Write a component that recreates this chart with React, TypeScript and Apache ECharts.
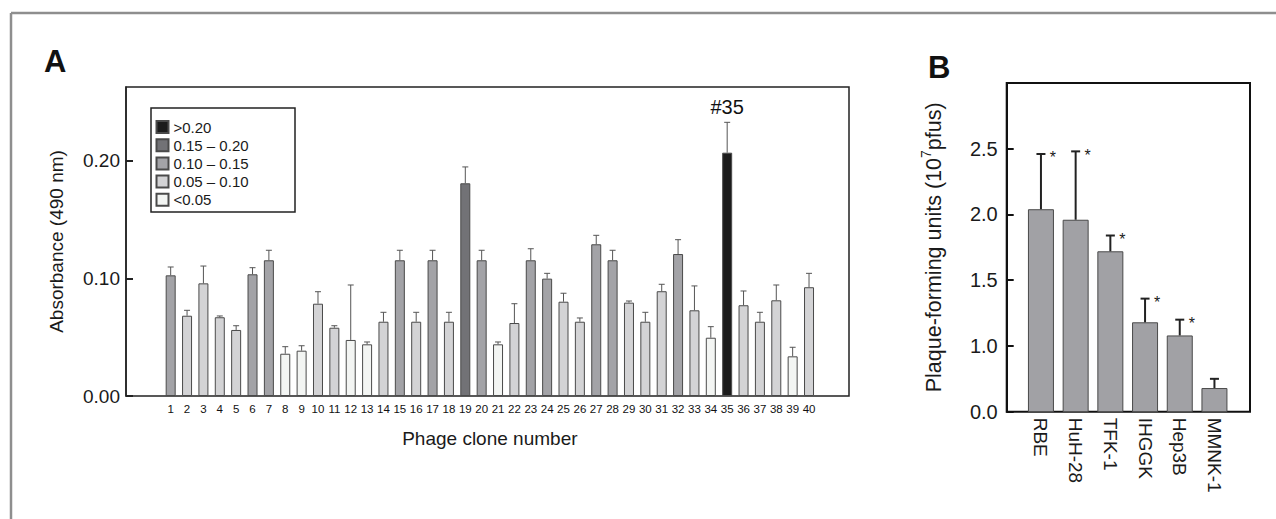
import React, { useEffect, useRef } from "react";
import * as echarts from "echarts";

const cloneLabels = ["1","2","3","4","5","6","7","8","9","10","11","12","13","14","15","16","17","18","19","20","21","22","23","24","25","26","27","28","29","30","31","32","33","34","35","36","37","38","39","40"];
const absorbance = [0.1025,0.0682,0.0957,0.0669,0.0561,0.1034,0.1153,0.0359,0.0385,0.0784,0.0580,0.0476,0.0439,0.0631,0.1153,0.0631,0.1153,0.0631,0.1807,0.1153,0.0439,0.0620,0.1153,0.0997,0.0801,0.0631,0.1289,0.1153,0.0793,0.0631,0.0890,0.1206,0.0728,0.0495,0.2067,0.0771,0.0631,0.0813,0.0337,0.0924];
const absorbanceSd = [0.0071,0.0046,0.0147,0.0011,0.0036,0.0056,0.0085,0.0060,0.0042,0.0102,0.0017,0.0467,0.0020,0.0080,0.0085,0.0080,0.0085,0.0080,0.0139,0.0085,0.0020,0.0164,0.0098,0.0045,0.0072,0.0032,0.0076,0.0085,0.0014,0.0080,0.0059,0.0122,0.0207,0.0094,0.0258,0.0121,0.0080,0.0130,0.0077,0.0118];
// class index: 0 >0.20, 1 0.15-0.20, 2 0.10-0.15, 3 0.05-0.10, 4 <0.05
const absorbanceClass = [2,3,3,3,3,2,2,4,4,3,3,4,4,3,2,3,2,3,1,2,4,3,2,2,3,3,2,2,3,3,3,2,3,4,0,3,3,3,4,3];
const classNames = [">0.20", "0.15 \u2013 0.20", "0.10 \u2013 0.15", "0.05 \u2013 0.10", "<0.05"];
const classColors = ["#1c1c1c", "#727276", "#a3a3a7", "#d3d3d5", "#f3f5f3"];
const absTicks = [0, 0.1, 0.2];
const highlightIndex = 34;
const highlightText = "#35";

const cellLines = ["RBE", "HuH-28", "TFK-1", "IHGGK", "Hep3B", "MMNK-1"];
const pfu = [2.04, 1.96, 1.72, 1.18, 1.08, 0.68];
const pfuSd = [0.42, 0.52, 0.12, 0.18, 0.12, 0.07];
const significant = [true, true, true, true, true, false];

const FONT = "'Liberation Sans', Arial, Helvetica, sans-serif";
const TXT = "#1a1a1a";

export default function App() {
  const ref = useRef<HTMLDivElement>(null);
  useEffect(() => {
    if (!ref.current) return;
    const chart = echarts.init(ref.current, null, { renderer: "svg" });

    const classSeries = classNames.map((name, c) => ({
      name,
      type: "bar",
      xAxisIndex: 1,
      yAxisIndex: 1,
      barWidth: 10,
      barGap: "-100%",
      itemStyle: { color: classColors[c], borderColor: "#4a4a4a", borderWidth: 1 },
      data: absorbance.map((v, i) => (absorbanceClass[i] === c ? v : "-")),
      z: 2,
    }));

    const option: any = {
      animation: false,
      textStyle: { fontFamily: FONT },
      graphic: [
        { type: "line", shape: { x1: 11, y1: 13, x2: 1276, y2: 13 }, style: { stroke: "#8e8e8e", lineWidth: 2.5 } },
        { type: "line", shape: { x1: 11, y1: 13, x2: 11, y2: 519 }, style: { stroke: "#8e8e8e", lineWidth: 2.5 } },
        { type: "text", left: 44, top: 46, style: { text: "A", font: `bold 31px ${FONT}`, fill: "#111" } },
        { type: "text", left: 928, top: 52, style: { text: "B", font: `bold 31px ${FONT}`, fill: "#111" } },
        { type: "rect", shape: { x: 151, y: 108, width: 144, height: 104 }, style: { fill: "#fff", stroke: "#222", lineWidth: 1.5 }, z: 5 },
      ],
      legend: {
        orient: "vertical",
        left: 155.5,
        top: 119.5,
        padding: 0,
        itemWidth: 12,
        itemHeight: 12,
        itemGap: 3.2,
        icon: "rect",
        selectedMode: false,
        data: classNames,
        textStyle: { fontSize: 15, color: TXT, fontFamily: FONT },
        z: 10,
      },
      grid: [
        { left: 126, top: 87, width: 723, height: 309, show: true, borderColor: "#222", borderWidth: 1.5, backgroundColor: "transparent" },
        { left: 162.5, top: 87, width: 654.7, height: 309 },
        { left: 1006.7, top: 83, width: 243.3, height: 328.7, show: true, borderColor: "#111", borderWidth: 2, backgroundColor: "transparent" },
        { left: 1023.6, top: 83, width: 208.2, height: 328.7 },
      ],
      xAxis: [
        { gridIndex: 0, type: "value", show: false },
        {
          gridIndex: 1,
          type: "category",
          data: cloneLabels,
          axisLine: { show: false },
          axisTick: { show: false },
          axisLabel: { fontSize: 11.5, color: "#111", margin: 7, interval: 0, fontFamily: FONT },
          name: "Phage clone number",
          nameLocation: "middle",
          nameGap: 33,
          nameTextStyle: { fontSize: 19, color: TXT, fontFamily: FONT },
        },
        { gridIndex: 2, type: "value", show: false },
        {
          gridIndex: 3,
          type: "category",
          data: cellLines,
          axisLine: { show: false },
          axisTick: { show: false },
          axisLabel: { fontSize: 19, color: TXT, margin: 6, rotate: -90, interval: 0, fontFamily: FONT },
        },
      ],
      yAxis: [
        {
          gridIndex: 0,
          type: "value",
          min: 0,
          max: 0.2625,
          interval: 0.1,
          axisLine: { show: true, lineStyle: { color: "#222", width: 1.5 } },
          axisTick: { show: true, inside: true, length: 7, lineStyle: { color: "#222", width: 2 } },
          splitLine: { show: false },
          axisLabel: {
            fontSize: 19,
            color: TXT,
            margin: 6,
            fontFamily: FONT,
            showMaxLabel: false,
            formatter: (v: number) => (absTicks.some((t) => Math.abs(t - v) < 1e-6) ? v.toFixed(2) : ""),
          },
          name: "Absorbance (490 nm)",
          nameLocation: "middle",
          nameGap: 60,
          nameTextStyle: { fontSize: 19, color: TXT, fontFamily: FONT },
        },
        { gridIndex: 1, type: "value", min: 0, max: 0.2625, show: false },
        {
          gridIndex: 2,
          type: "value",
          min: 0.5,
          max: 3.0,
          interval: 0.5,
          axisLine: { show: true, lineStyle: { color: "#111", width: 2 } },
          axisTick: { show: true, inside: true, length: 7, lineStyle: { color: "#111", width: 2 } },
          splitLine: { show: false },
          axisLabel: {
            fontSize: 20,
            color: TXT,
            margin: 9,
            fontFamily: FONT,
            formatter: (v: number) => (Math.abs(v - 0.5) < 1e-6 ? "0.0" : Math.abs(v - 3) < 1e-6 ? "" : v.toFixed(1)),
          },
          name: "{n|Plaque-forming units (10}{s|7}{n|pfus)}",
          nameLocation: "middle",
          nameGap: 62,
          nameTextStyle: {
            fontFamily: FONT,
            rich: {
              n: { fontSize: 21.5, color: TXT, fontFamily: FONT, lineHeight: 26, verticalAlign: "bottom" },
              s: { fontSize: 14, color: TXT, fontFamily: FONT, lineHeight: 26, verticalAlign: "top" },
            },
          },
        },
        { gridIndex: 3, type: "value", min: 0.5, max: 3.0, show: false },
      ],
      series: [
        ...classSeries,
        {
          type: "custom",
          xAxisIndex: 1,
          yAxisIndex: 1,
          z: 3,
          data: absorbance.map((v, i) => [i, v, absorbanceSd[i], i === highlightIndex ? 1 : 0]),
          encode: { x: 0, y: 1 },
          renderItem: (params: any, api: any) => {
            const i = api.value(0);
            const m = api.value(1);
            const s = api.value(2);
            const hl = api.value(3);
            const b = api.coord([i, m]);
            const t = api.coord([i, m + s]);
            const st = { stroke: "#555", lineWidth: 1 };
            const children: any[] = [
              { type: "line", shape: { x1: b[0], y1: b[1], x2: t[0], y2: t[1] }, style: st },
              { type: "line", shape: { x1: t[0] - 3, y1: t[1], x2: t[0] + 3, y2: t[1] }, style: st },
            ];
            if (hl) {
              children.push({
                type: "text",
                x: t[0],
                y: t[1] - 5,
                style: { text: highlightText, font: `20px ${FONT}`, fill: "#111", align: "center", verticalAlign: "bottom" },
              });
            }
            return { type: "group", children };
          },
        },
        {
          type: "bar",
          xAxisIndex: 3,
          yAxisIndex: 3,
          barWidth: 26,
          data: pfu,
          itemStyle: { color: "#a1a1a5", borderColor: "#4a4a4a", borderWidth: 1 },
          z: 2,
        },
        {
          type: "custom",
          xAxisIndex: 3,
          yAxisIndex: 3,
          z: 3,
          data: pfu.map((v, i) => [i, v, pfuSd[i], significant[i] ? 1 : 0]),
          encode: { x: 0, y: 1 },
          renderItem: (params: any, api: any) => {
            const i = api.value(0);
            const m = api.value(1);
            const s = api.value(2);
            const sig = api.value(3);
            const b = api.coord([i, m]);
            const t = api.coord([i, m + s]);
            const st = { stroke: "#222", lineWidth: 2 };
            const children: any[] = [
              { type: "line", shape: { x1: b[0], y1: b[1], x2: t[0], y2: t[1] }, style: st },
              { type: "line", shape: { x1: t[0] - 4.5, y1: t[1], x2: t[0] + 4.5, y2: t[1] }, style: st },
            ];
            if (sig) {
              children.push({
                type: "text",
                x: t[0] + 12,
                y: t[1] + 4,
                style: { text: "*", font: `16px ${FONT}`, fill: TXT, align: "center", verticalAlign: "middle" },
              });
            }
            return { type: "group", children };
          },
        },
      ],
    };
    chart.setOption(option);
    return () => chart.dispose();
  }, []);
  return <div ref={ref} style={{ position: "fixed", left: 0, top: 0, width: 1276, height: 519, background: "#fff" }} />;
}
